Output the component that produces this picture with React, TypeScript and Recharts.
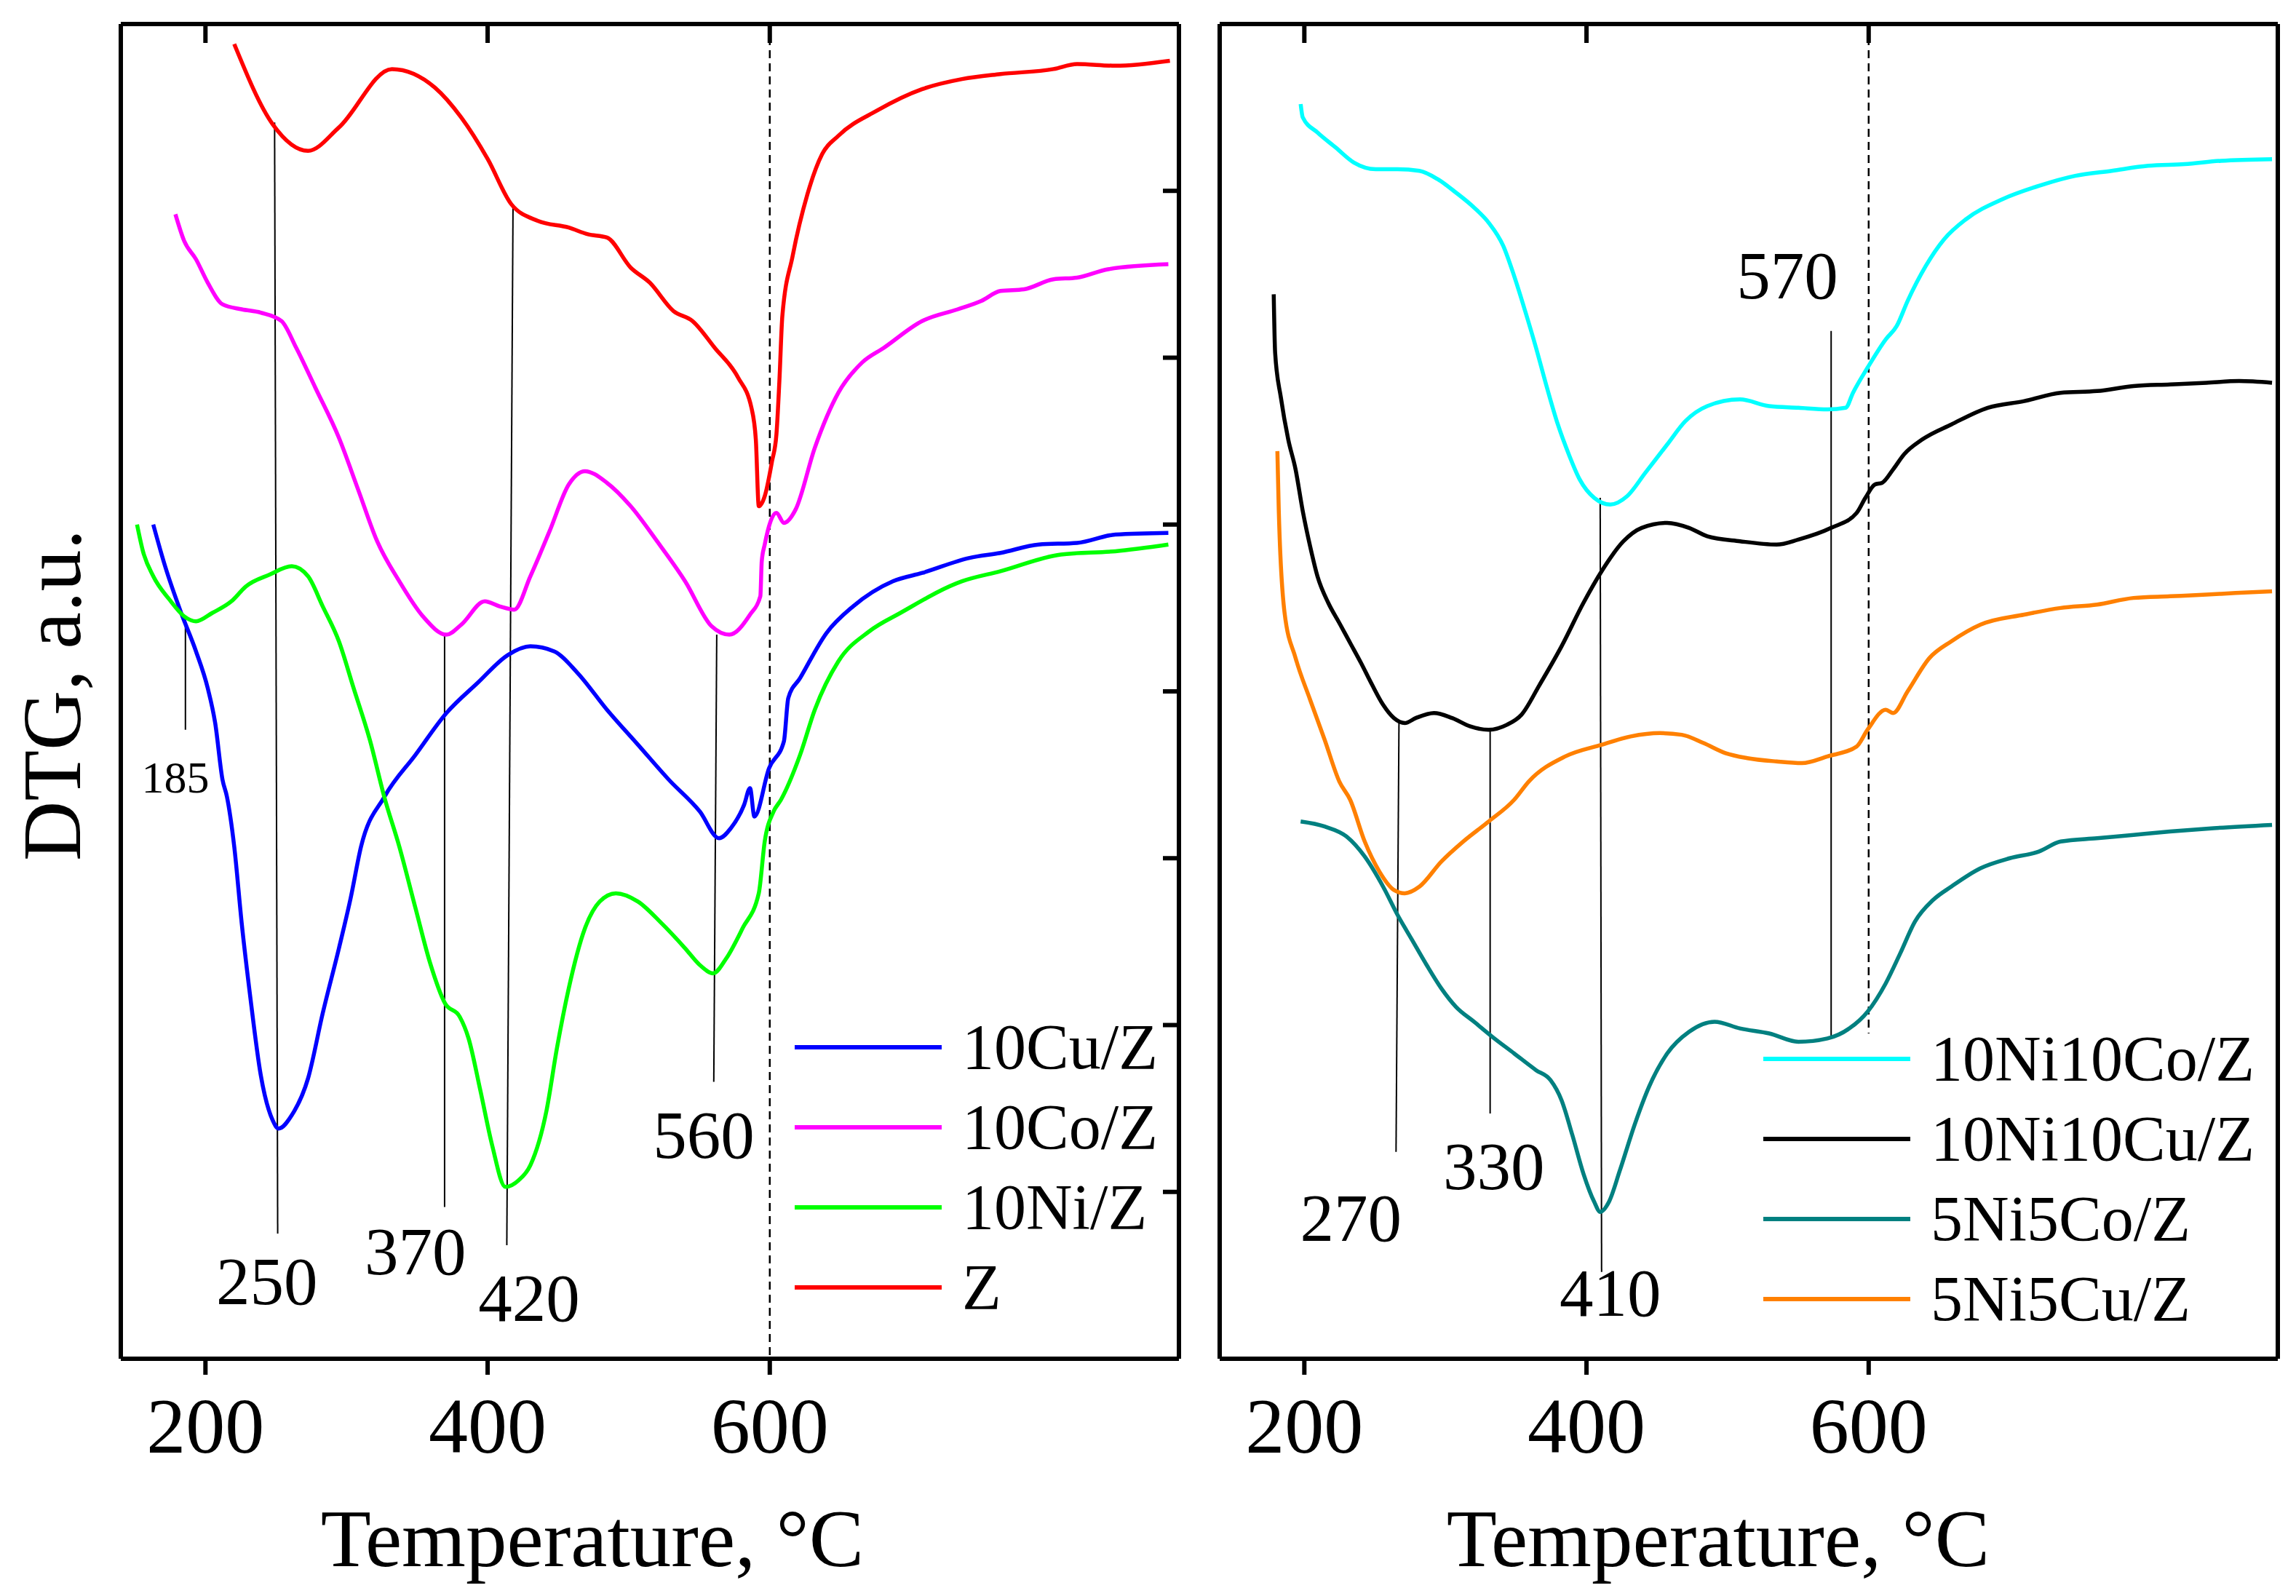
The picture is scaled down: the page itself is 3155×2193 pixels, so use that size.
import React from 'react'
import { LineChart, Line, XAxis, YAxis, ReferenceLine, ReferenceDot } from 'recharts'

const FONT = '"Liberation Serif", "Times New Roman", serif'

// temperature axis (both panels)
const tempDomain = [140, 890]
const tempTicks = [200, 400, 600]
const dtgTicks = [1, 2, 3, 4, 5, 6, 7]
const dtgMax = 8

// left panel: Z
const zT = [220.4, 247.6, 272.7, 294.6, 332.2, 362.5, 381.3, 400.1, 416.8, 435.6, 457.5, 471.1, 484.6, 501.4, 514.9, 531.7, 545.2, 560.9, 577.6, 587.0, 590.1, 592.2, 596.4, 601.6, 604.7, 606.8, 608.9, 616.2, 626.7, 637.1, 648.6, 675.8, 708.1, 736.3, 763.5, 801.1, 817.8, 845.0, 883.6]
const zV = [7.88, 7.40, 7.24, 7.38, 7.73, 7.62, 7.44, 7.19, 6.92, 6.82, 6.78, 6.74, 6.72, 6.54, 6.45, 6.28, 6.22, 6.06, 5.88, 5.70, 5.51, 5.11, 5.17, 5.38, 5.54, 5.86, 6.25, 6.61, 6.98, 7.22, 7.33, 7.48, 7.61, 7.67, 7.70, 7.73, 7.76, 7.75, 7.78]

// left panel: 10Co/Z
const coT = [178.7, 184.9, 193.3, 201.6, 212.1, 225.7, 239.2, 253.9, 264.3, 277.9, 294.6, 308.2, 321.7, 337.4, 354.1, 370.8, 381.3, 398.0, 408.4, 418.9, 430.3, 443.9, 457.5, 469.0, 484.6, 501.4, 520.1, 540.0, 558.8, 571.3, 586.0, 593.3, 594.3, 596.4, 604.7, 610.0, 618.3, 631.9, 648.6, 665.3, 681.0, 708.1, 733.2, 749.9, 763.5, 780.2, 801.1, 817.8, 839.7, 882.5]
const coV = [6.86, 6.70, 6.59, 6.45, 6.32, 6.29, 6.27, 6.22, 6.06, 5.82, 5.52, 5.21, 4.90, 4.66, 4.45, 4.34, 4.40, 4.54, 4.51, 4.49, 4.69, 4.96, 5.24, 5.32, 5.25, 5.11, 4.90, 4.66, 4.39, 4.34, 4.46, 4.57, 4.78, 4.88, 5.07, 5.01, 5.09, 5.46, 5.79, 5.97, 6.06, 6.22, 6.29, 6.34, 6.40, 6.41, 6.47, 6.48, 6.53, 6.56]

// left panel: 10Cu/Z
const cuT = [163.0, 171.4, 182.8, 193.3, 201.6, 206.9, 212.1, 215.2, 220.4, 225.7, 231.9, 239.2, 247.6, 251.8, 261.2, 272.7, 283.1, 294.6, 302.9, 310.3, 327.0, 348.9, 370.8, 392.8, 414.7, 430.3, 447.1, 463.8, 484.6, 506.6, 528.5, 550.4, 564.0, 572.4, 581.8, 586.0, 589.1, 599.5, 610.0, 613.1, 621.5, 640.2, 659.1, 687.2, 708.1, 741.6, 763.5, 790.6, 817.8, 845.0, 882.5]
const cuV = [5.00, 4.75, 4.47, 4.24, 4.02, 3.81, 3.47, 3.37, 3.07, 2.61, 2.16, 1.70, 1.43, 1.38, 1.46, 1.68, 2.07, 2.46, 2.76, 3.07, 3.37, 3.62, 3.87, 4.05, 4.22, 4.27, 4.24, 4.11, 3.89, 3.68, 3.47, 3.28, 3.12, 3.18, 3.32, 3.42, 3.25, 3.54, 3.70, 3.96, 4.08, 4.35, 4.51, 4.66, 4.71, 4.80, 4.83, 4.88, 4.89, 4.94, 4.95]

// left panel: 10Ni/Z
const niT = [151.5, 155.7, 163.0, 174.5, 184.9, 193.3, 204.8, 218.4, 228.8, 245.5, 261.2, 272.7, 283.1, 294.6, 305.0, 316.5, 327.0, 337.4, 348.9, 359.3, 369.8, 380.2, 386.5, 394.8, 403.2, 412.6, 422.0, 430.3, 441.8, 449.1, 457.5, 469.0, 479.4, 490.9, 506.6, 523.3, 540.0, 550.4, 559.8, 569.2, 580.7, 592.2, 596.4, 602.7, 607.9, 621.5, 631.9, 648.6, 670.5, 692.5, 736.3, 763.5, 806.3, 845.0, 882.5]
const niV = [5.00, 4.84, 4.69, 4.55, 4.45, 4.42, 4.47, 4.54, 4.63, 4.70, 4.75, 4.69, 4.51, 4.30, 4.02, 3.71, 3.36, 3.07, 2.70, 2.37, 2.13, 2.05, 1.92, 1.61, 1.28, 1.03, 1.07, 1.16, 1.49, 1.86, 2.22, 2.58, 2.74, 2.79, 2.74, 2.61, 2.46, 2.36, 2.31, 2.40, 2.58, 2.79, 3.10, 3.28, 3.35, 3.62, 3.89, 4.18, 4.36, 4.47, 4.66, 4.72, 4.82, 4.84, 4.88]

// right panel: 10Ni10Co/Z
const nicoT = [197.4, 198.9, 209.3, 222.2, 235.1, 250.6, 266.1, 281.6, 294.5, 307.4, 320.3, 330.6, 341.0, 348.7, 356.5, 364.2, 372.0, 379.7, 387.5, 395.2, 405.5, 416.9, 428.8, 441.7, 457.2, 470.1, 485.6, 508.8, 529.5, 550.2, 570.8, 583.7, 588.9, 599.2, 612.1, 619.9, 627.6, 640.5, 653.5, 669.0, 694.8, 720.6, 746.4, 772.3, 798.1, 823.9, 849.7, 885.9]
const nicoV = [7.52, 7.44, 7.35, 7.26, 7.17, 7.13, 7.13, 7.12, 7.07, 6.99, 6.90, 6.81, 6.67, 6.49, 6.28, 6.06, 5.82, 5.60, 5.42, 5.27, 5.16, 5.12, 5.17, 5.31, 5.48, 5.62, 5.71, 5.75, 5.71, 5.70, 5.69, 5.70, 5.79, 5.94, 6.11, 6.19, 6.34, 6.55, 6.71, 6.83, 6.95, 7.03, 7.09, 7.12, 7.15, 7.16, 7.18, 7.19]

// right panel: 10Ni10Cu/Z
const nicuT = [178.3, 179.3, 183.4, 188.6, 193.8, 198.9, 204.1, 209.3, 217.0, 224.8, 232.5, 240.2, 248.0, 255.8, 263.5, 271.2, 279.0, 291.9, 304.8, 317.7, 330.6, 343.6, 353.9, 366.8, 382.3, 397.8, 410.7, 426.2, 439.1, 457.2, 472.7, 485.6, 508.8, 534.7, 550.2, 573.4, 591.5, 597.7, 604.4, 609.5, 617.3, 625.0, 638.0, 658.6, 684.4, 710.3, 736.1, 761.9, 787.7, 813.6, 839.4, 862.6, 885.9]
const nicuV = [6.38, 6.03, 5.76, 5.51, 5.33, 5.08, 4.87, 4.69, 4.53, 4.41, 4.29, 4.17, 4.04, 3.92, 3.84, 3.81, 3.84, 3.87, 3.84, 3.79, 3.77, 3.80, 3.86, 4.04, 4.27, 4.53, 4.72, 4.90, 4.98, 5.01, 4.98, 4.93, 4.90, 4.88, 4.91, 4.98, 5.07, 5.16, 5.24, 5.25, 5.33, 5.42, 5.51, 5.60, 5.70, 5.74, 5.79, 5.80, 5.83, 5.84, 5.85, 5.86, 5.85]

// right panel: 5Ni5Co/Z
const ni5co5T = [197.4, 214.4, 229.9, 242.8, 255.8, 266.1, 276.4, 286.7, 297.1, 307.4, 320.3, 333.2, 348.7, 364.2, 374.5, 382.3, 390.0, 397.8, 405.5, 409.7, 415.9, 423.7, 434.0, 444.3, 457.2, 472.7, 490.8, 508.8, 529.5, 550.2, 570.8, 586.3, 599.2, 612.1, 622.4, 632.8, 645.7, 658.6, 679.3, 700.0, 720.6, 736.1, 761.9, 787.7, 813.6, 844.6, 885.9]
const ni5co5V = [3.22, 3.19, 3.13, 3.01, 2.83, 2.66, 2.51, 2.36, 2.22, 2.11, 2.02, 1.93, 1.83, 1.73, 1.67, 1.55, 1.34, 1.11, 0.94, 0.88, 0.94, 1.13, 1.40, 1.63, 1.83, 1.96, 2.02, 1.98, 1.95, 1.90, 1.92, 1.98, 2.08, 2.25, 2.43, 2.62, 2.75, 2.83, 2.94, 3.00, 3.04, 3.10, 3.12, 3.14, 3.16, 3.18, 3.20]

// right panel: 5Ni5Cu/Z
const ni5cu5T = [180.9, 181.9, 186.0, 193.8, 204.1, 214.4, 224.8, 232.5, 242.8, 253.2, 263.5, 271.2, 281.6, 297.1, 312.6, 330.6, 348.7, 359.1, 384.9, 410.7, 431.4, 452.0, 467.5, 483.0, 498.5, 514.0, 534.7, 552.7, 570.8, 591.5, 599.2, 612.1, 617.3, 627.6, 643.1, 658.6, 679.3, 710.3, 736.1, 761.9, 787.7, 813.6, 839.4, 860.1, 885.9]
const ni5cu5V = [5.44, 5.08, 4.47, 4.20, 3.95, 3.71, 3.46, 3.35, 3.10, 2.92, 2.81, 2.79, 2.83, 2.98, 3.10, 3.22, 3.35, 3.46, 3.61, 3.68, 3.73, 3.75, 3.74, 3.69, 3.63, 3.60, 3.58, 3.57, 3.61, 3.67, 3.77, 3.89, 3.87, 4.00, 4.20, 4.30, 4.40, 4.46, 4.50, 4.52, 4.56, 4.57, 4.58, 4.59, 4.60]

// peak marker lines: [t1, v1, t2, v2]
const leftMarkers = [[185.8, 4.43, 185.8, 3.77], [249.0, 7.41, 251.2, 0.75], [369.5, 4.34, 369.5, 0.91], [418.0, 6.90, 413.6, 0.68], [562.4, 4.34, 560.3, 1.66]]
const rightMarkers = [[267.1, 3.83, 265.0, 1.24], [331.7, 3.77, 331.7, 1.47], [409.7, 5.16, 410.7, 0.52], [573.4, 6.16, 573.4, 1.93]]

// peak labels
const leftPeakText = ['185', '250', '370', '420', '560']
const leftPeakT = [178.7, 243.5, 348.8, 429.4, 553.2]
const leftPeakV = [3.49, 0.47, 0.65, 0.37, 1.35]
const rightPeakText = ['270', '330', '410', '570']
const rightPeakT = [233.0, 334.3, 416.9, 542.4]
const rightPeakV = [0.85, 1.16, 0.40, 6.50]

const pairs = (t: number[], v: number[]) => t.map((x, i) => ({ t: x, v: v[i] }))

const leftSeries = [
  { name: '10Cu/Z', color: '#0000FF', data: pairs(cuT, cuV) },
  { name: '10Co/Z', color: '#FF00FF', data: pairs(coT, coV) },
  { name: '10Ni/Z', color: '#00FF00', data: pairs(niT, niV) },
  { name: 'Z', color: '#FF0000', data: pairs(zT, zV) },
]

const rightSeries = [
  { name: '10Ni10Co/Z', color: '#00FFFF', data: pairs(nicoT, nicoV) },
  { name: '10Ni10Cu/Z', color: '#000000', data: pairs(nicuT, nicuV) },
  { name: '5Ni5Co/Z', color: '#008080', data: pairs(ni5co5T, ni5co5V) },
  { name: '5Ni5Cu/Z', color: '#FF8000', data: pairs(ni5cu5T, ni5cu5V) },
]

const frame = { stroke: '#000', strokeWidth: 6 }

// draws nothing, so only the tick marks remain
const NoLabel = () => <g />

// short inward mark hanging from the top edge
const TopTick = (p: any) => <line x1={p.cx} x2={p.cx} y1={p.cy} y2={p.cy + 26} stroke="#000" strokeWidth={6} />

function Panel({ left, width, margin, series, markers, peakText, peakT, peakV, smallFirst, yTicks, dashTo }: any) {
  return (
    <div style={{ position: 'absolute', left, top: 0 }}>
      <LineChart width={width} height={2193} margin={margin}>
        <XAxis
          dataKey="t"
          type="number"
          domain={tempDomain}
          ticks={tempTicks}
          allowDataOverflow
          height={30}
          tickSize={22}
          tickMargin={30}
          tick={{ fontSize: 108, fill: '#000', fontFamily: FONT }}
          axisLine={frame}
          tickLine={frame}
        />
        <XAxis
          xAxisId="top"
          orientation="top"
          mirror
          dataKey="t"
          type="number"
          domain={tempDomain}
          allowDataOverflow
          tick={false}
          tickLine={false}
          axisLine={frame}
        />
        <YAxis type="number" domain={[0, dtgMax]} allowDataOverflow width={1} tick={false} tickLine={false} axisLine={frame} />
        <YAxis
          yAxisId="right"
          orientation="right"
          mirror
          type="number"
          domain={[0, dtgMax]}
          ticks={dtgTicks}
          allowDataOverflow
          interval={0}
          tick={NoLabel}
          tickSize={22}
          axisLine={frame}
          tickLine={yTicks ? frame : false}
        />
        <ReferenceLine
          segment={[{ x: 600, y: dtgMax }, { x: 600, y: dashTo }]}
          stroke="#000"
          strokeWidth={2.5}
          strokeDasharray="11 7"
        />
        {markers.map((m: number[], i: number) => (
          <ReferenceLine
            key={'m' + i}
            segment={[{ x: m[0], y: m[1] }, { x: m[2], y: m[3] }]}
            stroke="#000"
            strokeWidth={2}
          />
        ))}
        {series.map((s: any) => (
          <Line
            key={s.name}
            data={s.data}
            dataKey="v"
            type="monotone"
            stroke={s.color}
            strokeWidth={5.5}
            dot={false}
            isAnimationActive={false}
          />
        ))}
        {/* hidden series on the frame axes so they get a scale */}
        <Line
          data={series[0].data}
          dataKey="v"
          xAxisId="top"
          yAxisId="right"
          stroke="none"
          dot={false}
          activeDot={false}
          isAnimationActive={false}
        />
        {/* inward tick marks on the top edge */}
        {tempTicks.map((t) => (
          <ReferenceDot key={'tt' + t} x={t} y={dtgMax} r={1} shape={TopTick} />
        ))}
        {peakText.map((txt: string, i: number) => (
          <ReferenceDot
            key={'p' + i}
            x={peakT[i]}
            y={peakV[i]}
            r={0}
            fill="none"
            stroke="none"
            label={{
              value: txt,
              position: 'center',
              fontSize: smallFirst && i === 0 ? 62 : 93,
              fill: '#000',
              fontFamily: FONT,
            }}
          />
        ))}
      </LineChart>
    </div>
  )
}

function LegendBox({ x, y, series }: any) {
  return (
    <g>
      {series.map((s: any, i: number) => (
        <g key={s.name}>
          <line x1={x} x2={x + 202} y1={y + i * 110} y2={y + i * 110} stroke={s.color} strokeWidth={6} />
          <text x={x + 230} y={y + i * 110 + 29} fontSize={88} fontFamily={FONT} fill="#000">
            {s.name}
          </text>
        </g>
      ))}
    </g>
  )
}

export default function App() {
  return (
    <div style={{ position: 'absolute', left: 0, top: 0, width: 3155, height: 2193, background: '#fff', overflow: 'hidden' }}>
      <Panel
        left={0}
        width={1650}
        margin={{ top: 33, right: 30, bottom: 296, left: 165 }}
        series={leftSeries}
        markers={leftMarkers}
        peakText={leftPeakText}
        peakT={leftPeakT}
        peakV={leftPeakV}
        smallFirst
        yTicks
        dashTo={0}
      />
      <Panel
        left={1650}
        width={1505}
        margin={{ top: 33, right: 25, bottom: 296, left: 25 }}
        series={rightSeries}
        markers={rightMarkers}
        peakText={rightPeakText}
        peakT={rightPeakT}
        peakV={rightPeakV}
        smallFirst={false}
        yTicks={false}
        dashTo={1.95}
      />
      <svg width={3155} height={2193} style={{ position: 'absolute', left: 0, top: 0, pointerEvents: 'none' }}>
        <LegendBox x={1092} y={1439} series={leftSeries} />
        <LegendBox x={2423} y={1455} series={rightSeries} />
        <text x={814} y={2152} textAnchor="middle" fontSize={113} fontFamily={FONT} fill="#000">
          Temperature, °C
        </text>
        <text x={2361} y={2152} textAnchor="middle" fontSize={113} fontFamily={FONT} fill="#000">
          Temperature, °C
        </text>
        <text transform="translate(110, 955) rotate(-90)" textAnchor="middle" fontSize={114} fontFamily={FONT} fill="#000">
          DTG, a.u.
        </text>
      </svg>
    </div>
  )
}
